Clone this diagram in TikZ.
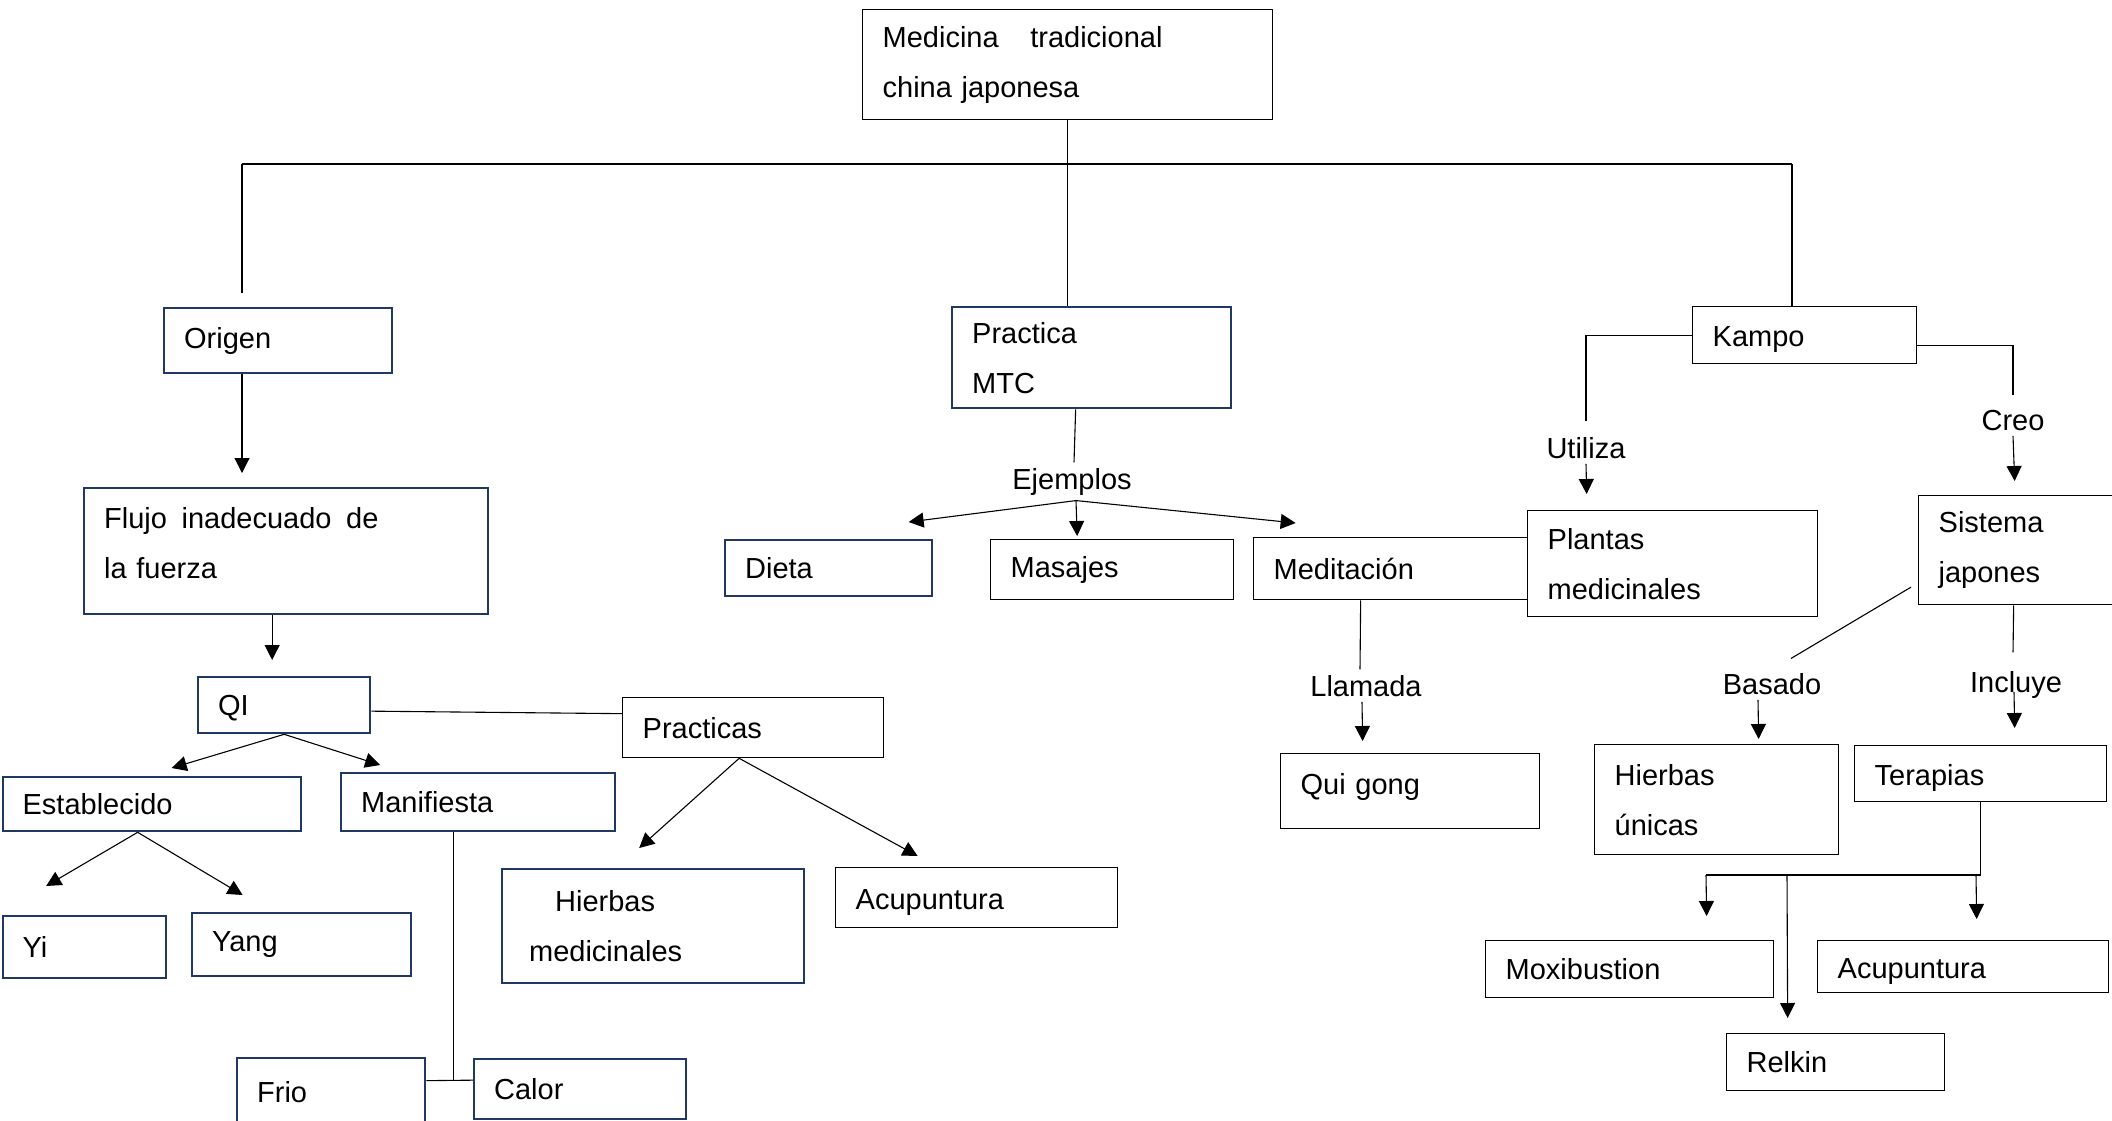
\documentclass[tikz,border=0pt]{standalone}
\usepackage{fontspec}
\setmainfont{Liberation Sans}
\usetikzlibrary{arrows.meta}
\definecolor{navy}{RGB}{31,56,100}
\begin{document}
\begin{tikzpicture}[x=1pt, y=-1pt, >={Triangle[length=15pt,width=15pt]}, line width=1.1pt,
  box/.style={draw, line width=1.3pt, anchor=north west, align=left, inner xsep=20pt, inner ysep=0pt, font=\fontsize{29}{50}\selectfont},
  navybox/.style={box, draw=navy, line width=2.3pt},
  tag/.style={anchor=base, inner sep=5pt, font=\fontsize{29}{35}\selectfont}]
    \clip (0,0) rectangle (2112,1120);

    \node[box, text width=370pt, minimum height=110pt] (medicina) at (862,9) {Medicina\hspace{22pt} tradicional\\china japonesa};
    \node[navybox, text width=188pt, minimum height=65pt] (origen) at (163,307) {Origen};
    \node[navybox, text width=239pt, minimum height=101pt] (practica) at (951,306) {Practica\\MTC};
    \node[box, text width=184pt, minimum height=57pt] (kampo) at (1692,306) {\rule{0pt}{29pt}Kampo};

    \node[navybox, text width=364pt, minimum height=126pt] (flujo) at (83,487) {Flujo\hspace{5pt} inadecuado\hspace{5pt} de\\la fuerza\rule[-16pt]{0pt}{0pt}};
    \node[navybox, text width=132pt, minimum height=56pt] (qi) at (197,676) {\rule{0pt}{27pt}QI};
    \node[navybox, text width=258pt, minimum height=54pt] (establecido) at (1.5,776) {Establecido};
    \node[navybox, text width=234pt, minimum height=58pt] (manifiesta) at (340,772) {Manifiesta};
    \node[navybox, text width=123pt, minimum height=62pt] (yi) at (1.5,915) {Yi};
    \node[navybox, text width=179pt, minimum height=63pt] (yang) at (191,912) {Yang};
    \node[navybox, text width=148pt, minimum height=67pt] (frio) at (236,1057) {Frio};
    \node[navybox, text width=172pt, minimum height=60pt] (calor) at (473,1058) {Calor};
    \node[box, text width=221pt, minimum height=60pt] (practicas) at (622,697) {Practicas};
    \node[navybox, inner xsep=27pt, text width=248pt, minimum height=114pt] (hierbasmed) at (501,868) {\hspace*{26pt}Hierbas\\medicinales};
    \node[box, text width=242pt, minimum height=60pt] (acupuntura) at (835,867) {\rule{0pt}{29pt}Acupuntura};

    \node[navybox, text width=167pt, minimum height=56pt] (dieta) at (724,539) {Dieta};
    \node[box, text width=203pt, minimum height=60pt] (masajes) at (990,539) {Masajes};
    \node[box, text width=234pt, minimum height=62pt] (meditacion) at (1253,537) {Meditación};
    \node[box, text width=219pt, minimum height=75pt] (quigong) at (1280,753) {Qui gong\rule[-14pt]{0pt}{0pt}};

    \node[box, text width=250pt, minimum height=106pt] (plantas) at (1527,510) {Plantas\\medicinales};
    \node[box, text width=172pt, minimum height=109pt] (sistema) at (1918,495) {Sistema\\japones};
    \node[box, text width=204pt, minimum height=110pt] (hierbasun) at (1594,744) {Hierbas\\únicas};
    \node[box, text width=212pt, minimum height=56pt] (terapias) at (1854,745) {\rule{0pt}{29pt}Terapias};
    \node[box, text width=248pt, minimum height=57pt] (moxibustion) at (1485,940) {Moxibustion};
    \node[box, text width=251pt, minimum height=52pt] (acupunturaK) at (1817,940) {\rule{0pt}{29pt}Acupuntura};
    \node[box, text width=178pt, minimum height=57pt] (relkin) at (1726,1033) {Relkin};

    \node[tag] (ejemplos) at (1072,489) {Ejemplos};
    \node[tag] (llamada) at (1366,696) {Llamada};
    \node[tag] (utiliza) at (1586,458) {Utiliza};
    \node[tag] (creo) at (2013,430) {Creo};
    \node[tag] (basado) at (1772,694) {Basado};
    \node[tag] (incluye) at (2016,692) {Incluye};

    \coordinate (barL) at (242,164);
    \coordinate (barR) at (1792,164);
    \coordinate (qiIn) at ([xshift=-12pt]qi.north);
    \coordinate (busL) at (1706,875);
    \coordinate (busM) at (1787,875);
    \coordinate (busA) at (1976,875);

    \draw (barL) -- (barR);
    \draw (medicina.south) -- (medicina.south |- practica.north);
    \draw[shorten >=14pt] (barL) -- (barL |- origen.north);
    \draw (barR) -- (barR |- kampo.north);

    \draw[->, shorten >=14pt] (barL |- origen.south) -- (barL |- flujo.north);
    \draw[->, shorten >=16pt] (qiIn |- flujo.south) -- (qiIn);
    \draw[->] (qi.south) -- ([shift={(20pt,8pt)}]establecido.north);
    \draw[->] (qi.south) -- ([shift={(-98pt,7pt)}]manifiesta.north);
    \draw ([yshift=-6pt]qi.east) -- ([yshift=14pt]practicas.west);
    \draw[->] ([xshift=-14pt]establecido.south) -- ([shift={(-38pt,29pt)}]yi.north);
    \draw[->] ([xshift=-14pt]establecido.south) -- ([shift={(-59pt,17pt)}]yang.north);
    \draw ([xshift=-25pt]manifiesta.south) -- ++(0,249);
    \draw ([yshift=11pt]frio.east) -- ([yshift=9pt]calor.west);
    \draw[->] ([xshift=-14pt]practicas.south) -- ([shift={(-14pt,20pt)}]hierbasmed.north);
    \draw[->] ([xshift=-14pt]practicas.south) -- ([shift={(-59pt,11pt)}]acupuntura.north);

    \draw ([xshift=-16pt]practica.south) -- ([xshift=2pt]ejemplos.north);
    \draw[->] ([xshift=4pt]ejemplos.south) -- ([shift={(80pt,17pt)}]dieta.north);
    \draw[->] ([xshift=4pt]ejemplos.south) -- ([shift={(-35pt,3pt)}]masajes.north);
    \draw[->] ([xshift=4pt]ejemplos.south) -- ([shift={(-95pt,14pt)}]meditacion.north);
    \draw ([xshift=-30pt]meditacion.south) -- ([xshift=-6pt]llamada.north);
    \draw[->] ([xshift=-4pt]llamada.south) -- ([shift={(-47.5pt,12pt)}]quigong.north);

    \draw (kampo.west) -| ([yshift=10pt]utiliza.north);
    \draw[->] (utiliza.south) -- ([shift={(-86pt,16pt)}]plantas.north);
    \draw ([yshift=-10pt]kampo.east) -| ([yshift=9pt]creo.north);
    \draw[->] (creo.south) -- ([shift={(-10pt,14pt)}]sistema.north);
    \draw ([shift={(-7pt,-37pt)}]sistema.west) -- ([shift={(19pt,9pt)}]basado.north);
    \draw[->] ([xshift=-14pt]basado.south) -- ([shift={(42pt,5pt)}]hierbasun.north);
    \draw ([xshift=-11pt]sistema.south) -- ([shift={(-3pt,13pt)}]incluye.north);
    \draw[->] ([xshift=-2pt]incluye.base) -- ([shift={(34pt,17pt)}]terapias.north);
    \draw (terapias.south) -- (terapias.south |- busL) -- (busL);
    \draw[->] (busL) -- ([shift={(77pt,24pt)}]moxibustion.north);
    \draw[->] (busM) -- ([shift={(-48pt,15pt)}]relkin.north);
    \draw[->] (busA) -- ([shift={(13.5pt,21pt)}]acupunturaK.north);
\end{tikzpicture}
\end{document}
